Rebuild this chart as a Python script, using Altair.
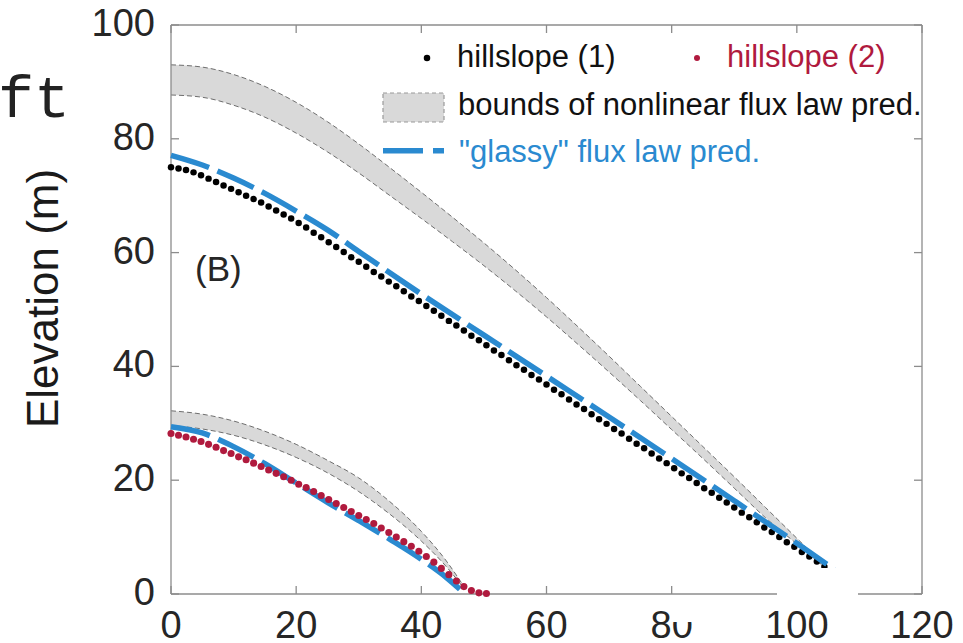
import altair as alt
import pandas as pd

X_TICKS = [0, 20, 40, 60, 80, 100, 120]
Y_TICKS = [0, 20, 40, 60, 80, 100]
X_DOMAIN = [0, 120]
Y_DOMAIN = [0, 100]

# hillslope (1) measured profile (black dots)
h1_x = [0.0, 1.2, 2.4, 3.6, 4.8, 6.0, 7.2, 8.4, 9.6, 10.8, 12.0, 13.2, 14.4, 15.6, 16.8,
        18.0, 19.2, 20.4, 21.6, 22.8, 24.0, 25.2, 26.4, 27.6, 28.8, 30.0, 31.2, 32.4, 33.6,
        34.8, 36.0, 37.2, 38.4, 39.6, 40.8, 42.0, 43.2, 44.4, 45.6, 46.8, 48.0, 49.2, 50.4,
        51.6, 52.8, 54.0, 55.2, 56.4, 57.6, 58.8, 60.0, 61.2, 62.4, 63.6, 64.8, 66.0, 67.2,
        68.4, 69.6, 70.8, 72.0, 73.2, 74.4, 75.6, 76.8, 78.0, 79.2, 80.4, 81.6, 82.8, 84.0,
        85.2, 86.4, 87.6, 88.8, 90.0, 91.2, 92.4, 93.6, 94.8, 96.0, 97.2, 98.4, 99.6, 100.8,
        102.0, 103.2, 104.4, 105.6, 106.8]
h1_y = [75.0, 74.8, 74.5, 74.1, 73.6, 73.0, 72.4, 71.8, 71.2, 70.6, 70.0, 69.4, 68.8, 68.1,
        67.4, 66.7, 66.0, 65.2, 64.4, 63.5, 62.7, 61.8, 61.0, 60.1, 59.2, 58.4, 57.5, 56.6,
        55.8, 54.9, 54.1, 53.2, 52.3, 51.5, 50.6, 49.8, 48.9, 48.0, 47.2, 46.3, 45.4, 44.6,
        43.7, 42.8, 42.0, 41.1, 40.2, 39.4, 38.5, 37.7, 36.8, 35.9, 35.1, 34.2, 33.3, 32.5,
        31.6, 30.7, 29.9, 29.0, 28.2, 27.3, 26.4, 25.6, 24.7, 23.8, 23.0, 22.1, 21.2, 20.4,
        19.5, 18.6, 17.8, 16.9, 16.1, 15.2, 14.3, 13.5, 12.6, 11.7, 10.9, 10.0, 9.1, 8.3,
        7.4, 6.6, 5.7, 4.8, 4.0, 3.1]

# hillslope (2) measured profile (red dots)
h2_x = [0.0, 1.2, 2.4, 3.6, 4.8, 6.0, 7.2, 8.4, 9.6, 10.8, 12.0, 13.2, 14.4, 15.6, 16.8,
        18.0, 19.2, 20.4, 21.6, 22.8, 24.0, 25.2, 26.4, 27.6, 28.8, 30.0, 31.2, 32.4, 33.6,
        34.8, 36.0, 37.2, 38.4, 39.6, 40.8, 42.0, 43.2, 44.4, 45.6, 46.8, 48.0, 49.2, 50.4]
h2_y = [28.2, 27.9, 27.6, 27.2, 26.8, 26.3, 25.8, 25.2, 24.7, 24.1, 23.6, 23.0, 22.4, 21.8,
        21.2, 20.6, 20.0, 19.3, 18.7, 18.0, 17.3, 16.6, 15.9, 15.2, 14.5, 13.8, 13.1, 12.4,
        11.6, 10.8, 10.0, 9.2, 8.4, 7.5, 6.6, 5.6, 4.5, 3.4, 2.3, 1.3, 0.6, 0.2, 0.1]

# "glassy" flux law predictions (blue dashed)
g1_x = [0, 5, 10, 15, 20, 25, 30, 40, 50, 60, 70, 80, 90, 100, 106]
g1_y = [77.1, 75.4, 73.1, 70.4, 67.3, 64.0, 60.2, 52.7, 45.5, 38.3, 31.1, 23.8, 16.4, 8.9, 4.3]
g2_x = [0, 5, 10, 15, 20, 25, 30, 35, 40, 44, 47]
g2_y = [29.4, 28.3, 25.9, 22.9, 19.5, 16.1, 12.9, 9.6, 6.1, 2.9, 0.0]

# bounds of nonlinear flux law prediction (grey bands)
b1_x = [0, 5, 10, 15, 20, 25, 30, 35, 40, 45, 50, 55, 60, 65, 70, 75, 80, 85, 90, 95, 100, 105]
b1_hi = [93.0, 92.6, 91.3, 89.2, 86.4, 83.0, 79.1, 74.9, 70.6, 66.2, 61.7, 57.0, 52.1, 47.0,
         41.8, 36.5, 31.2, 25.9, 20.6, 15.2, 9.8, 4.4]
b1_lo = [87.7, 87.3, 85.9, 83.8, 81.0, 77.7, 74.0, 70.0, 66.0, 61.9, 57.7, 53.3, 48.7, 43.9,
         39.0, 34.0, 28.9, 23.8, 18.6, 13.4, 8.8, 4.2]
b2_x = [0, 5, 10, 15, 20, 25, 30, 35, 40, 44, 47]
b2_hi = [32.2, 31.6, 30.4, 28.6, 26.3, 23.5, 20.4, 16.2, 11.0, 5.8, 1.0]
b2_lo = [29.6, 29.0, 27.9, 26.2, 24.0, 21.3, 18.0, 14.0, 9.3, 4.8, 0.7]

LEGEND_LABELS = ["hillslope (1)", "hillslope (2)", "bounds of nonlinear flux law pred.",
                 "\"glassy\" flux law pred."]
PANEL_LABEL = ["(B)"]
CUT_TEXT = ["ft"]
Y_TITLE = ["Elevation (m)"]

BLUE = "#2a8ad0"
RED = "#b01a3e"
BAND = "#d9d9d9"
AX = "#8c8c8c"
TXT = "#262626"
FONT = "Liberation Sans"

W, H = 751, 569

band_df = pd.DataFrame({
    "x": b1_x + b2_x, "hi": b1_hi + b2_hi, "lo": b1_lo + b2_lo,
    "grp": ["1"] * len(b1_x) + ["2"] * len(b2_x)})
edge_df = pd.DataFrame({
    "x": b1_x + b1_x + b2_x + b2_x,
    "y": b1_hi + b1_lo + b2_hi + b2_lo,
    "grp": ["1h"] * len(b1_x) + ["1l"] * len(b1_x) + ["2h"] * len(b2_x) + ["2l"] * len(b2_x)})
h1_df = pd.DataFrame({"x": h1_x, "y": h1_y})
h2_df = pd.DataFrame({"x": h2_x, "y": h2_y})
g_df = pd.DataFrame({"x": g1_x + g2_x, "y": g1_y + g2_y,
                     "grp": ["1"] * len(g1_x) + ["2"] * len(g2_x)})
xt_df = pd.DataFrame({"v": X_TICKS, "lab": [str(v) for v in X_TICKS]})
yt_df = pd.DataFrame({"v": Y_TICKS, "lab": [str(v) for v in Y_TICKS]})
vbox_df = pd.DataFrame({"x": X_DOMAIN, "y0": [Y_DOMAIN[0]] * 2, "y1": [Y_DOMAIN[1]] * 2})
hbox_df = pd.DataFrame({"y": Y_DOMAIN, "x0": [X_DOMAIN[0]] * 2, "x1": [X_DOMAIN[1]] * 2})

xs = alt.Scale(domain=X_DOMAIN, nice=False, zero=False)
ys = alt.Scale(domain=Y_DOMAIN, nice=False, zero=False)


def X(field):
    return alt.X(f"{field}:Q", scale=xs, axis=None)


def Y(field):
    return alt.Y(f"{field}:Q", scale=ys, axis=None)


band = alt.Chart(band_df).mark_area(color=BAND, interpolate="monotone").encode(
    x=X("x"), y=Y("hi"), y2="lo:Q", detail="grp:N")

edges = alt.Chart(edge_df).mark_line(color="#6e6e6e", strokeWidth=1, strokeDash=[5, 3],
                                     interpolate="monotone").encode(
    x=X("x"), y=Y("y"), detail="grp:N")

# box, inward ticks and tick labels
vbox = alt.Chart(vbox_df).mark_rule(color=AX, strokeWidth=1.3).encode(
    x=X("x"), y=Y("y0"), y2="y1:Q")
hbox = alt.Chart(hbox_df).mark_rule(color=AX, strokeWidth=1.3).encode(
    y=Y("y"), x=X("x0"), x2="x1:Q")
tk_bottom = alt.Chart(xt_df).mark_rule(color=AX, strokeWidth=1.3).encode(
    x=X("v"), y=alt.value(H), y2=alt.value(H - 8))
tk_top = alt.Chart(xt_df).mark_rule(color=AX, strokeWidth=1.3).encode(
    x=X("v"), y=alt.value(0), y2=alt.value(8))
tk_left = alt.Chart(yt_df).mark_rule(color=AX, strokeWidth=1.3).encode(
    y=Y("v"), x=alt.value(0), x2=alt.value(8))
tk_right = alt.Chart(yt_df).mark_rule(color=AX, strokeWidth=1.3).encode(
    y=Y("v"), x=alt.value(W), x2=alt.value(W - 8))
xlab = alt.Chart(xt_df).mark_text(align="center", baseline="top", font=FONT, fontSize=38,
                                  color=TXT).encode(
    x=X("v"), y=alt.value(H + 14), text="lab:N")
ylab = alt.Chart(yt_df).mark_text(align="right", baseline="middle", font=FONT, fontSize=38,
                                  color=TXT).encode(
    y=Y("v"), x=alt.value(-16), text="lab:N")


def one(val):
    return pd.DataFrame({"t": [val]})


ytitle = alt.Chart(one(Y_TITLE[0])).mark_text(
    align="center", baseline="alphabetic", angle=270, font=FONT, fontSize=44,
    color="#1a1a1a").encode(x=alt.value(-113), y=alt.value(273.5), text="t:N")

dots1 = alt.Chart(h1_df).mark_circle(color="black", opacity=1, size=42).encode(
    x=X("x"), y=Y("y"))

glassy = alt.Chart(g_df).mark_line(color=BLUE, strokeWidth=5.5, strokeDash=[40, 9],
                                   strokeCap="butt", interpolate="monotone").encode(
    x=X("x"), y=Y("y"), detail="grp:N")

dots2 = alt.Chart(h2_df).mark_circle(color=RED, opacity=1, size=50).encode(
    x=X("x"), y=Y("y"))

# legend (drawn inside the plot)
leg_dot1 = alt.Chart(one("a")).mark_circle(color="black", opacity=1, size=42).encode(
    x=alt.value(256), y=alt.value(33))
leg_dot2 = alt.Chart(one("b")).mark_circle(color=RED, opacity=1, size=36).encode(
    x=alt.value(526), y=alt.value(33))
leg_patch = alt.Chart(one("c")).mark_rect(fill=BAND, stroke="#9a9a9a", strokeWidth=1.2,
                                          strokeDash=[4, 3]).encode(
    x=alt.value(212), x2=alt.value(273), y=alt.value(68), y2=alt.value(97))
leg_line = alt.Chart(one("d")).mark_rule(color=BLUE, strokeWidth=5.5, strokeDash=[40, 10],
                                         strokeCap="butt").encode(
    x=alt.value(212), x2=alt.value(273), y=alt.value(125.7))


def leg_text(label, x, y, color):
    return alt.Chart(one(label)).mark_text(align="left", baseline="alphabetic", font=FONT,
                                           fontSize=31, color=color).encode(
        x=alt.value(x), y=alt.value(y), text="t:N")


lt1 = leg_text(LEGEND_LABELS[0], 286, 41.5, "#111111")
lt2 = leg_text(LEGEND_LABELS[1], 556, 41.5, RED)
lt3 = leg_text(LEGEND_LABELS[2], 287, 90, "#111111")
lt4 = leg_text(LEGEND_LABELS[3], 288, 137.3, BLUE)

panel = alt.Chart(one(PANEL_LABEL[0])).mark_text(align="left", baseline="middle", font=FONT,
                                                 fontSize=35, color=TXT).encode(
    x=alt.value(24), y=alt.value(245), text="t:N")
cut = alt.Chart(one(CUT_TEXT[0])).mark_text(
    align="left", baseline="alphabetic",
    font="Courier New, Courier, Nimbus Mono PS, FreeMono, Liberation Mono",
    fontSize=60, color="#222222").encode(
    x=alt.value(-173), y=alt.value(92), text="t:N")

# white masks present in the source image
mask1 = alt.Chart(one("m1")).mark_rect(fill="white").encode(
    x=alt.value(606), x2=alt.value(687), y=alt.value(543), y2=alt.value(573))
mask2 = alt.Chart(one("m2")).mark_rect(fill="white").encode(
    x=alt.value(500), x2=alt.value(525), y=alt.value(580), y2=alt.value(597))

chart = alt.layer(
    band, edges, vbox, hbox, tk_bottom, tk_top, tk_left, tk_right, xlab, ylab, ytitle,
    dots1, glassy, dots2,
    leg_dot1, leg_dot2, leg_patch, leg_line, lt1, lt2, lt3, lt4,
    panel, cut, mask1, mask2
).properties(
    width=W, height=H,
    autosize=alt.AutoSizeParams(type="none"),
    padding={"left": 171, "top": 25, "right": 41, "bottom": 49},
).configure_view(stroke="transparent")

chart.save("out.html", embed_options={"renderer": "svg", "actions": False})
